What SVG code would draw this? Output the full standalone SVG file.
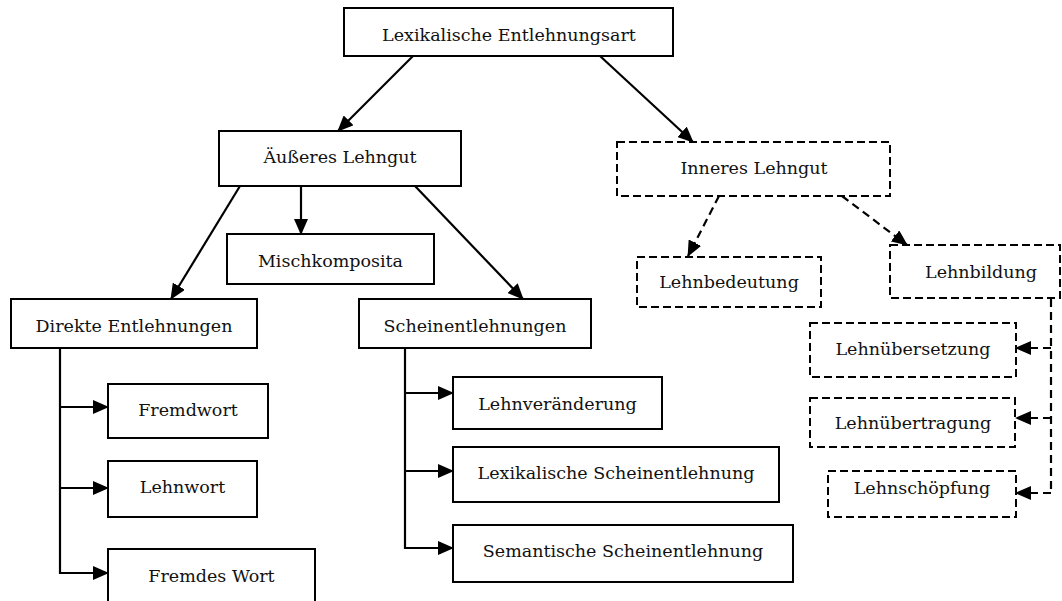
<svg xmlns="http://www.w3.org/2000/svg" width="1062" height="601" viewBox="0 0 1062 601">
<style>
.box{fill:#fff;stroke:#000;stroke-width:2}
.dbox{fill:#fff;stroke:#000;stroke-width:2;stroke-dasharray:8 4}
.t{font-family:"DejaVu Serif","Liberation Serif",serif;font-size:17.5px;fill:#111;text-anchor:middle}
.c{fill:none;stroke:#000;stroke-width:2.2}
.dc{fill:none;stroke:#000;stroke-width:2.2;stroke-dasharray:8 5}
</style>
<defs>
<marker id="ah" viewBox="0 0 16 14" refX="15" refY="7" markerWidth="16" markerHeight="14" markerUnits="userSpaceOnUse" orient="auto">
<path d="M0,0 L16,7 L0,14 z" fill="#000"/>
</marker>
</defs>
<rect width="1062" height="601" fill="#fff"/>
<g id="connectors">
<path class="c" d="M413,56 L338,131" marker-end="url(#ah)"/>
<path class="c" d="M600,56 L693,142" marker-end="url(#ah)"/>
<path class="c" d="M240,186 L171,299" marker-end="url(#ah)"/>
<path class="c" d="M301,186 L301,234" marker-end="url(#ah)"/>
<path class="c" d="M415,186 L523,299" marker-end="url(#ah)"/>
<path class="dc" d="M719,196 L688,256" marker-end="url(#ah)"/>
<path class="dc" d="M842,196 L907,245" marker-end="url(#ah)"/>
<path class="c" d="M60,348 L60,574"/>
<path class="c" d="M59,407 L108,407" marker-end="url(#ah)"/>
<path class="c" d="M59,488 L108,488" marker-end="url(#ah)"/>
<path class="c" d="M59,573 L108,573" marker-end="url(#ah)"/>
<path class="c" d="M405,348 L405,549"/>
<path class="c" d="M404,393 L453,393" marker-end="url(#ah)"/>
<path class="c" d="M404,471 L453,471" marker-end="url(#ah)"/>
<path class="c" d="M404,548 L453,548" marker-end="url(#ah)"/>
<path class="dc" d="M1051,299 L1051,493"/>
<path class="dc" d="M1051,348 L1016,348" marker-end="url(#ah)"/>
<path class="dc" d="M1051,418 L1016,418" marker-end="url(#ah)"/>
<path class="dc" d="M1051,493 L1016,493" marker-end="url(#ah)"/>
</g>
<g id="n-lexikalische-entlehnungsart"><rect class="box" x="344" y="8" width="329" height="48"/><text class="t" x="509" y="41">Lexikalische Entlehnungsart</text></g>
<g id="n-aeusseres-lehngut"><rect class="box" x="219" y="131" width="242" height="55"/><text class="t" x="340" y="163">Äußeres Lehngut</text></g>
<g id="n-inneres-lehngut"><rect class="dbox" x="617" y="142" width="273" height="54"/><text class="t" x="754" y="174">Inneres Lehngut</text></g>
<g id="n-mischkomposita"><rect class="box" x="227" y="234" width="207" height="50"/><text class="t" x="330.5" y="267">Mischkomposita</text></g>
<g id="n-lehnbedeutung"><rect class="dbox" x="637" y="257" width="184" height="50"/><text class="t" x="729" y="288">Lehnbedeutung</text></g>
<g id="n-lehnbildung"><rect class="dbox" x="890" y="245" width="170" height="53"/><text class="t" x="981" y="278">Lehnbildung</text></g>
<g id="n-direkte-entlehnungen"><rect class="box" x="11" y="299" width="246" height="49"/><text class="t" x="134" y="332">Direkte Entlehnungen</text></g>
<g id="n-scheinentlehnungen"><rect class="box" x="359" y="299" width="232" height="49"/><text class="t" x="475" y="332">Scheinentlehnungen</text></g>
<g id="n-lehnuebersetzung"><rect class="dbox" x="810" y="323" width="206" height="54"/><text class="t" x="913" y="355">Lehnübersetzung</text></g>
<g id="n-lehnveraenderung"><rect class="box" x="453" y="377" width="209" height="52"/><text class="t" x="557.5" y="410">Lehnveränderung</text></g>
<g id="n-fremdwort"><rect class="box" x="108" y="384" width="160" height="54"/><text class="t" x="188" y="416">Fremdwort</text></g>
<g id="n-lehnuebertragung"><rect class="dbox" x="810" y="398" width="205" height="49"/><text class="t" x="913" y="429">Lehnübertragung</text></g>
<g id="n-lexikalische-scheinentlehnung"><rect class="box" x="453" y="447" width="326" height="55"/><text class="t" x="616" y="479">Lexikalische Scheinentlehnung</text></g>
<g id="n-lehnwort"><rect class="box" x="108" y="461" width="149" height="56"/><text class="t" x="182.5" y="493">Lehnwort</text></g>
<g id="n-lehnschoepfung"><rect class="dbox" x="828" y="471" width="188" height="46"/><text class="t" x="922" y="494">Lehnschöpfung</text></g>
<g id="n-semantische-scheinentlehnung"><rect class="box" x="453" y="525" width="340" height="57"/><text class="t" x="623" y="557">Semantische Scheinentlehnung</text></g>
<g id="n-fremdes-wort"><rect class="box" x="108" y="549" width="207" height="60"/><text class="t" x="211.5" y="582">Fremdes Wort</text></g>
</svg>
